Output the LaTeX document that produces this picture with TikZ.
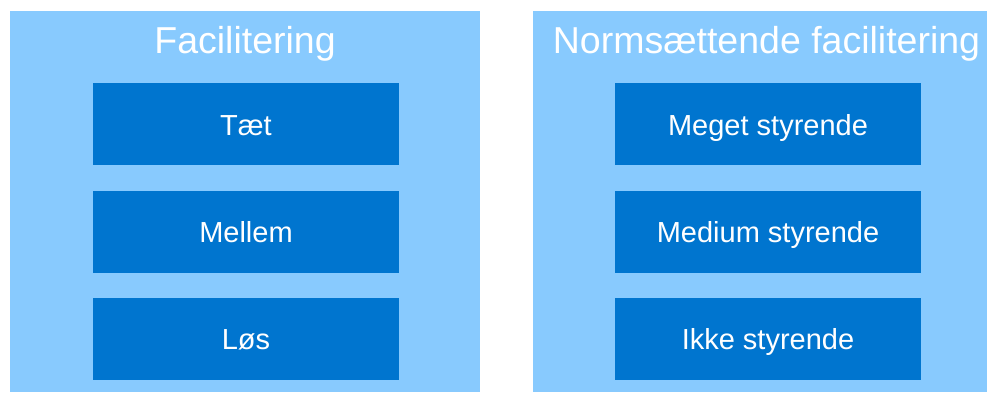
\documentclass[tikz,border=0pt]{standalone}
\usepackage{fontspec}
\setmainfont{Liberation Sans}
\definecolor{panelblue}{HTML}{88CAFE}
\definecolor{boxblue}{HTML}{0075CF}
\begin{document}
\begin{tikzpicture}[x=1pt,y=-1pt,
  panel/.style={fill=panelblue,draw=none},
  itembox/.style={fill=boxblue,draw=none,minimum width=306pt,minimum height=82pt,inner sep=0pt},
  itemtext/.style={text=white,font=\fontsize{29}{30}\selectfont,anchor=base},
  titletext/.style={text=white,font=\fontsize{37.5}{39}\selectfont,anchor=base}]
\useasboundingbox (0,0) rectangle (987,392);
\fill[panel] (10,11) rectangle (480,392);
\fill[panel] (533,11) rectangle (987,392);
\node[titletext] (t1) at (245,53.5) {Facilitering};
\node[titletext] (t2) at (766.5,53.5) {Normsættende facilitering};
\node[itembox] (a1) at (246,124) {};
\node[itembox] (a2) at (246,231.5) {};
\node[itembox] (a3) at (246,338.5) {};
\node[itembox] (b1) at (768,124) {};
\node[itembox] (b2) at (768,231.5) {};
\node[itembox] (b3) at (768,338.5) {};
\node[itemtext] (la1) at (246,135) {Tæt};
\node[itemtext] (la2) at (246,242.5) {Mellem};
\node[itemtext] (la3) at (246,349.5) {Løs};
\node[itemtext] (lb1) at (768,135) {Meget styrende};
\node[itemtext] (lb2) at (768,242.5) {Medium styrende};
\node[itemtext] (lb3) at (768,349.5) {Ikke styrende};
\end{tikzpicture}
\end{document}
